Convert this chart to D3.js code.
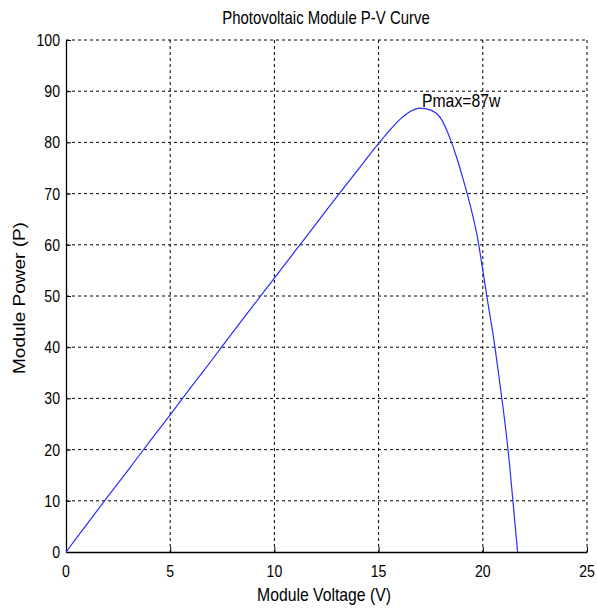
<!DOCTYPE html>
<html>
<head>
<meta charset="utf-8">
<script src="https://cdn.jsdelivr.net/npm/d3@7"></script>
<style>
  body { margin: 0; background: #fff; }
  text { font-family: "Liberation Sans", Arial, sans-serif; fill: #000; }
</style>
</head>
<body>
<script>
// P-V curve
const voltage = [0, 1, 2, 3, 4, 5, 6, 7, 8, 9, 10, 11, 12, 13, 14, 15, 15.5, 16, 16.5, 17,
                 17.5, 18, 18.5, 18.75, 19, 19.25, 19.5, 19.75, 20, 20.25, 20.5, 20.75, 21, 21.25, 21.5, 21.67];
const power = [0, 5.4, 10.8, 16.1, 21.5, 26.8, 32.2, 37.5, 42.9, 48.2, 53.5, 58.8, 64.1, 69.4, 74.6, 79.8, 82.2, 84.4, 86.0, 86.7,
               86.3, 84.6, 80.0, 77.0, 73.6, 70.0, 66.0, 61.3, 55.0, 48.5, 42.3, 35.0, 27.3, 18.5, 7.5, 0];
const xTicks = [0, 5, 10, 15, 20, 25];
const yTicks = [0, 10, 20, 30, 40, 50, 60, 70, 80, 90, 100];

const W = 597, H = 609;
const mLeft = 66, mRight = 587, mTop = 40, mBottom = 552;
const squeeze = 0.83; // the source image text is narrow

const svg = d3.select("body").append("svg")
    .attr("width", W)
    .attr("height", H);

const x = d3.scaleLinear().domain([0, 25]).range([mLeft, mRight]);
const y = d3.scaleLinear().domain([0, 100]).range([mBottom, mTop]);

function addText(px, py, str, size, anchor, rot) {
  svg.append("text")
      .attr("transform", `translate(${px},${py}) scale(${squeeze},1)` + (rot ? " rotate(-90)" : ""))
      .attr("text-anchor", anchor)
      .style("font-size", size + "px")
      .text(str);
}

// dashed grid
svg.selectAll(".gx")
    .data(xTicks.filter(d => d > 0))
    .enter().append("line")
    .attr("x1", d => x(d)).attr("x2", d => x(d))
    .attr("y1", mTop).attr("y2", mBottom)
    .attr("stroke", "#000")
    .attr("stroke-dasharray", "3,3");

svg.selectAll(".gy")
    .data(yTicks.filter(d => d > 0))
    .enter().append("line")
    .attr("x1", mLeft).attr("x2", mRight)
    .attr("y1", d => y(d)).attr("y2", d => y(d))
    .attr("stroke", "#000")
    .attr("stroke-dasharray", "3,3");

// axes, ticks pointing inwards
const xAxis = svg.append("g")
    .attr("transform", `translate(0,${mBottom})`)
    .call(d3.axisBottom(x).tickValues(xTicks).tickSizeInner(-5).tickSizeOuter(0).tickFormat(""));
const yAxis = svg.append("g")
    .attr("transform", `translate(${mLeft},0)`)
    .call(d3.axisLeft(y).tickValues(yTicks).tickSizeInner(-5).tickSizeOuter(0).tickFormat(""));

[xAxis, yAxis].forEach(a => {
  a.select(".domain").attr("stroke", "#000").attr("stroke-width", 1.3);
  a.selectAll(".tick line").attr("stroke", "#000");
});

xTicks.forEach(d => addText(x(d), mBottom + 25, d, 17, "middle"));
yTicks.forEach(d => addText(mLeft - 6, y(d) + 6, d, 17, "end"));

// curve
const line = d3.line()
    .x((d, i) => x(voltage[i]))
    .y(d => y(d))
    .curve(d3.curveMonotoneX);

svg.append("path")
    .datum(power)
    .attr("d", line)
    .attr("fill", "none")
    .attr("stroke", "#2b2bff")
    .attr("stroke-width", 1.2);

// labels
addText(326, 24, "Photovoltaic Module P-V Curve", 18, "middle");
addText(324, 601, "Module Voltage (V)", 19, "middle");
addText(25, 298, "Module Power (P)", 19, "middle", true);
addText(422, 107, "Pmax=87w", 19, "start");
</script>
</body>
</html>
